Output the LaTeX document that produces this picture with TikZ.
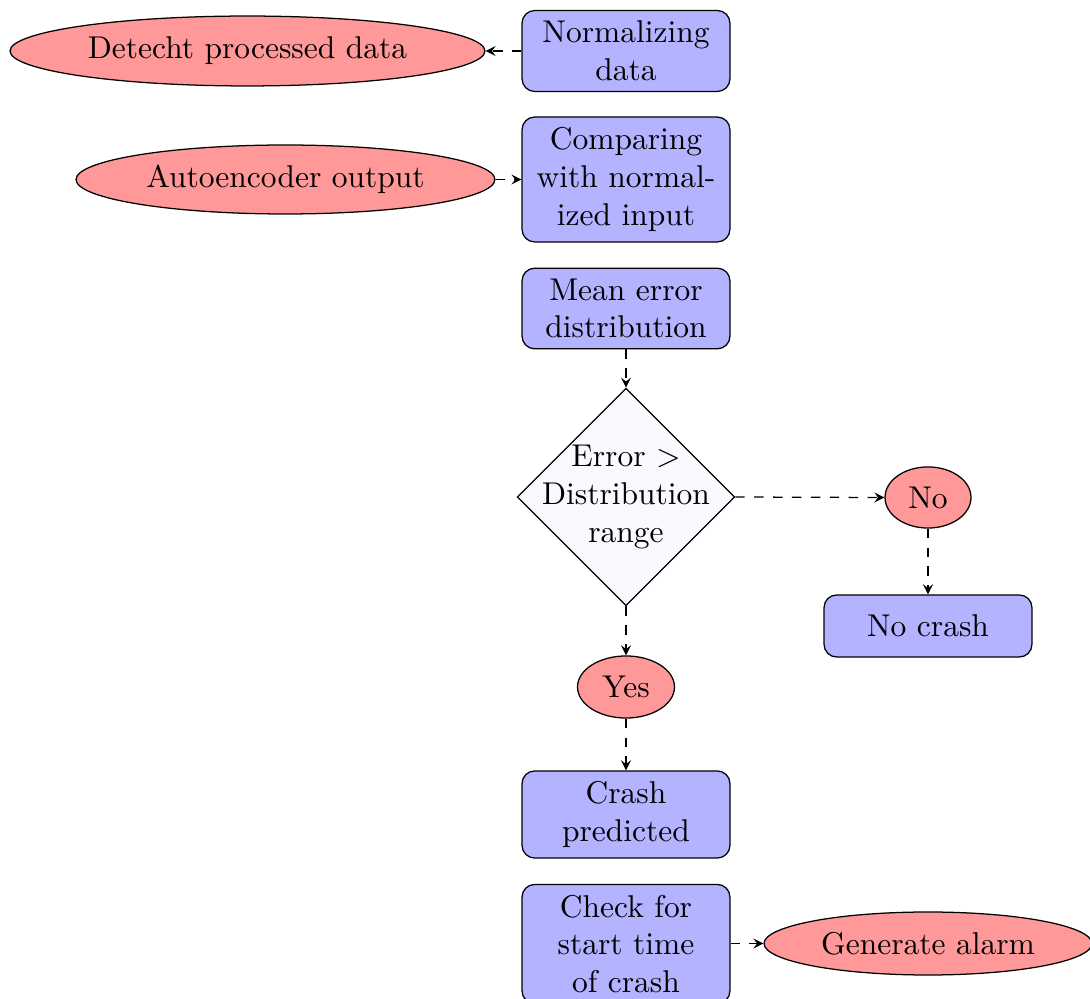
\documentclass[tikz,border=0pt]{standalone}
\usetikzlibrary{shapes.geometric,arrows}
\definecolor{boxblue}{RGB}{179,179,255}
\definecolor{ovalred}{RGB}{255,153,153}
\definecolor{decisionfill}{RGB}{249,249,255}
\tikzset{
  procbox/.style={draw, rounded corners=4pt, fill=boxblue, align=center,
    minimum width=66pt, minimum height=19.7pt, inner sep=3.33pt},
  oval/.style={draw, ellipse, fill=ovalred, inner sep=0pt},
  decision/.style={draw, diamond, aspect=1, fill=decisionfill,
    minimum width=69pt, minimum height=69pt, inner sep=0pt},
  flow/.style={draw, dashed, -stealth}
}
\begin{document}
\begin{tikzpicture}[x=0.3175pt, y=-0.3175pt]
  \useasboundingbox (0,0) rectangle (1090,999);

  % main column of processing steps
  \node[procbox] (norm) at (626,51) {Normalizing\\data};
  \node[procbox] (comp) at (626,179.5) {Comparing\\with normal-\\ized input};
  \node[procbox] (mean) at (626,308.5) {Mean error\\distribution};
  \node[decision] (dec) at (626,497) {};
  \node[align=center, inner sep=0pt] (dectext) at (dec.center) {Error $>$\\Distribution\\range};
  \node[oval, minimum width=30.8pt, minimum height=19.7pt] (yes) at (626,687) {Yes};
  \node[procbox] (crash) at (626,814.5) {Crash\\predicted};
  \node[procbox] (check) at (626,944) {Check for\\start time\\of crash};

  % side branches
  \node[oval, minimum width=150.8pt, minimum height=22.2pt] (det) at (247.5,51) {Detecht processed data};
  \node[oval, minimum width=133pt, minimum height=21.9pt] (auto) at (285.5,179.5) {Autoencoder output};
  \node[oval, minimum width=27.3pt, minimum height=19.4pt] (no) at (928,497.5) {No};
  \node[procbox] (nocrash) at (928,626) {No crash};
  \node[oval, minimum width=104.1pt, minimum height=20pt] (alarm) at (928,943.5) {Generate alarm};

  % connectors
  \draw[flow] (norm.west) -- (det.east);
  \draw[flow] (auto.east) -- (comp.west);
  \draw[flow] (mean.south) -- (dec.north);
  \draw[flow] (dec.east) -- (no.west);
  \draw[flow] (no.south) -- (nocrash.north);
  \draw[flow] (dec.south) -- (yes.north);
  \draw[flow] (yes.south) -- (crash.north);
  \draw[flow] (check.east |- alarm.west) -- (alarm.west);
\end{tikzpicture}
\end{document}
